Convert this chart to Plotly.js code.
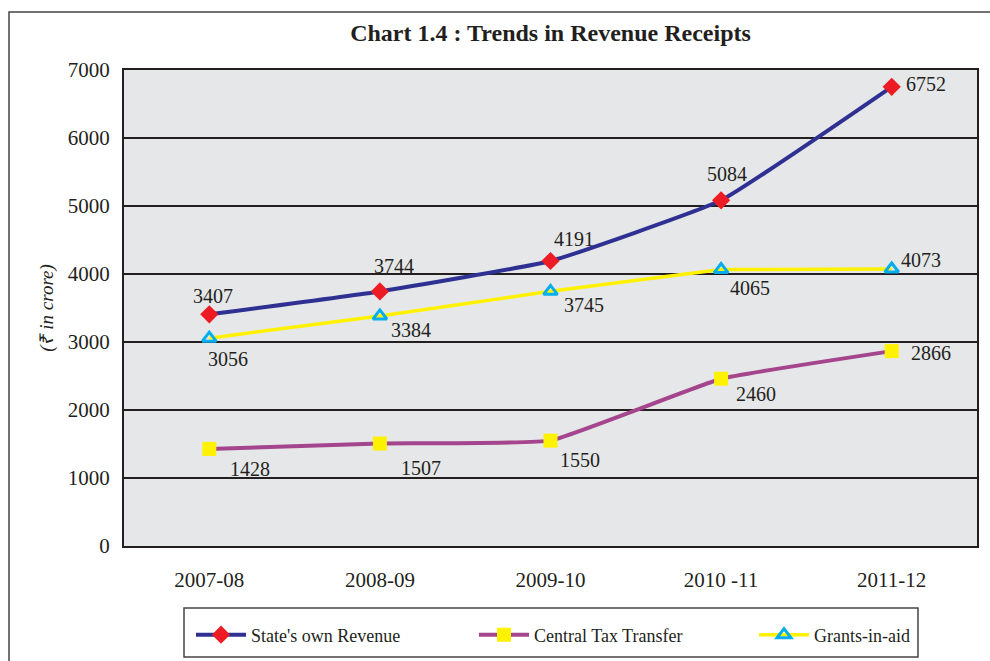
<!DOCTYPE html>
<html>
<head>
<meta charset="utf-8">
<script src="https://cdn.plot.ly/plotly-3.0.1.min.js"></script>
<style>
  html, body { margin: 0; padding: 0; background: #ffffff; }
  #chart { width: 990px; height: 661px; }
</style>
</head>
<body>
<div id="chart"></div>
<script>
// ---- Data ----
const years = ["2007-08", "2008-09", "2009-10", "2010 -11", "2011-12"];
const statesOwnRevenue = [3407, 3744, 4191, 5084, 6752];
const centralTaxTransfer = [1428, 1507, 1550, 2460, 2866];
const grantsInAid = [3056, 3384, 3745, 4065, 4073];
const seriesNames = ["State's own Revenue", "Central Tax Transfer", "Grants-in-aid"];
const yTicks = [0, 1000, 2000, 3000, 4000, 5000, 6000, 7000];

// ---- Label offsets (pixels, style only) ----
const sorShift = [[4, -18], [14, -25], [23, -22], [6, -26], [34, -3]];
const cttShift = [[41, 20], [41, 24], [29, 19], [35, 15], [39, 2]];
const giaShift = [[19, 21], [31, 14], [33, 14], [29, 18], [29, -9]];

const serif = "Liberation Serif, Times New Roman, serif";
const ink = "#231f20";

const traces = [
  {
    x: years, y: statesOwnRevenue, name: seriesNames[0], type: "scatter", mode: "lines+markers",
    line: { color: "#2e3192", width: 4, shape: "spline", smoothing: 0.35 },
    marker: { symbol: "diamond", size: 14, color: "#ed1c24" },
    legend: "legend"
  },
  {
    x: years, y: centralTaxTransfer, name: seriesNames[1], type: "scatter", mode: "lines+markers",
    line: { color: "#a4458d", width: 4, shape: "spline", smoothing: 0.3 },
    marker: { symbol: "square", size: 14, color: "#fff200" },
    legend: "legend2"
  },
  {
    x: years, y: grantsInAid, name: seriesNames[2], type: "scatter", mode: "lines+markers",
    line: { color: "#fff200", width: 3.5 },
    marker: { symbol: "triangle-up-open", size: 12, color: "#00aeef", line: { color: "#00aeef", width: 3 } },
    legend: "legend3"
  }
];
// reorder so yellow line is beneath blue
const drawOrder = [traces[2], traces[1], traces[0]];

const annotations = [];
function addLabels(vals, shifts) {
  vals.forEach((v, i) => {
    annotations.push({
      x: years[i], y: v, xref: "x", yref: "y", text: String(v), showarrow: false,
      xshift: shifts[i][0], yshift: -shifts[i][1],
      font: { family: serif, size: 20, color: ink }
    });
  });
}
addLabels(statesOwnRevenue, sorShift);
addLabels(centralTaxTransfer, cttShift);
addLabels(grantsInAid, giaShift);

const L = 124, R = 977, T = 70, B = 546;
const px = (p) => (p - L) / (R - L);
const py = (p) => (B - p) / (B - T);

const legendCommon = {
  orientation: "h", yanchor: "middle", xanchor: "left",
  bgcolor: "rgba(0,0,0,0)", borderwidth: 0, itemwidth: 50,
  font: { family: serif, size: 18, color: ink },
  itemclick: false, itemdoubleclick: false
};

const layout = {
  width: 990, height: 661,
  margin: { l: L, r: 990 - R, t: T, b: 661 - B, autoexpand: false },
  paper_bgcolor: "#ffffff",
  plot_bgcolor: "#e6e7e8",
  title: {
    text: "<b>Chart 1.4 : Trends in Revenue Receipts</b>",
    font: { family: serif, size: 24, color: ink },
    x: 0.5, xref: "paper", y: 1 - 33 / 661, yref: "container", yanchor: "middle"
  },
  xaxis: {
    type: "category", range: [-0.5, 4.5], automargin: false,
    showgrid: false, zeroline: false,
    showline: true, linecolor: ink, linewidth: 2, mirror: true,
    ticks: "", ticklabelstandoff: 14,
    tickfont: { family: serif, size: 21, color: ink }
  },
  yaxis: {
    range: [0, 7000], tickvals: yTicks, ticktext: yTicks.map(String), automargin: false,
    showgrid: true, gridcolor: ink, gridwidth: 2,
    zeroline: false,
    showline: true, linecolor: ink, linewidth: 2, mirror: true,
    ticks: "", ticklabelstandoff: 8,
    tickfont: { family: serif, size: 21, color: ink },
    title: { text: "<i>(₹ in crore)</i>", standoff: 9, font: { family: serif, size: 19, color: ink } }
  },
  showlegend: true,
  legend: Object.assign({}, legendCommon, { x: px(191), y: py(635) }),
  legend2: Object.assign({}, legendCommon, { x: px(474), y: py(635) }),
  legend3: Object.assign({}, legendCommon, { x: px(754), y: py(635) }),
  annotations: annotations,
  shapes: [
    { type: "rect", xref: "paper", yref: "paper", x0: px(9), x1: px(1100), y0: py(12), y1: py(800),
      line: { color: "#444444", width: 1.5 }, fillcolor: "rgba(0,0,0,0)", layer: "below" },
    { type: "rect", xref: "paper", yref: "paper", x0: px(184), x1: px(918), y0: py(608), y1: py(657),
      line: { color: "#444444", width: 1.5 }, fillcolor: "rgba(0,0,0,0)" }
  ]
};

Plotly.newPlot("chart", drawOrder, layout, { displayModeBar: false, staticPlot: true });
</script>
</body>
</html>
